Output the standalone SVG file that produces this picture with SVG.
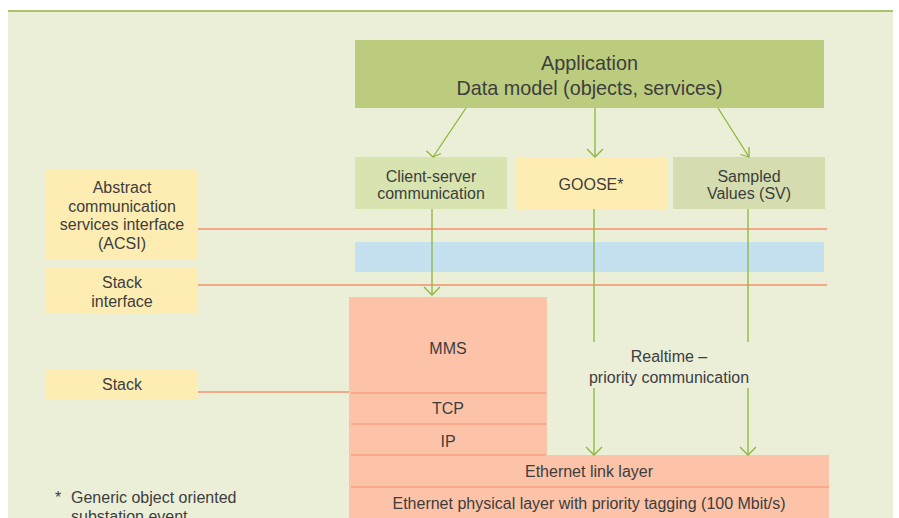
<svg xmlns="http://www.w3.org/2000/svg" width="899" height="518" viewBox="0 0 899 518">
<style>
text{font-family:"Liberation Sans",Arial,sans-serif;fill:#3d3d3d;font-size:16px;text-anchor:middle}
.app{font-size:19.8px}
.fn{text-anchor:start;font-size:16px}
.yel{fill:#fdedb3}
.sal{fill:#fdc3a8}
.org{stroke:#f4916a;stroke-width:1.5;fill:none}
.div{stroke:#f4916a;stroke-width:1.2;fill:none}
.grn{stroke:#8db53c;stroke-width:1.3;fill:none}
</style>
<rect x="0" y="0" width="899" height="518" fill="#ffffff"/>
<rect x="8" y="11" width="885" height="507" fill="#ebefd8"/>
<line x1="8" y1="11" x2="893" y2="11" stroke="#8db53c" stroke-width="1.5"/>

<g id="app">
<rect x="355" y="40" width="469" height="68" fill="#bccc7e"/>
<text x="589.5" y="70" class="app">Application</text>
<text x="589.5" y="95" class="app">Data model (objects, services)</text>
</g>
<g id="client">
<rect x="355" y="157" width="152" height="52" fill="#d7e4b0"/>
<text x="431" y="181.5">Client-server</text>
<text x="431" y="198.5">communication</text>
</g>
<g id="goose">
<rect x="515" y="157" width="152" height="52" class="yel"/>
<text x="591" y="189.5">GOOSE*</text>
</g>
<g id="sv">
<rect x="673" y="157" width="152" height="52" fill="#d5ddb0"/>
<text x="749" y="181.5">Sampled</text>
<text x="749" y="198.5">Values (SV)</text>
</g>
<g id="acsi">
<rect x="46" y="169" width="152" height="90" class="yel"/>
<text x="122" y="193">Abstract</text>
<text x="122" y="211.5">communication</text>
<text x="122" y="230">services interface</text>
<text x="122" y="248.5">(ACSI)</text>
</g>
<g id="stackif">
<rect x="46" y="268" width="152" height="46" class="yel"/>
<text x="122" y="288">Stack</text>
<text x="122" y="307">interface</text>
</g>
<g id="stack">
<rect x="46" y="369" width="152" height="30" class="yel"/>
<text x="122" y="390">Stack</text>
</g>
<g id="band">
<rect x="355" y="242" width="469" height="30" fill="#c5e0ef"/>
</g>
<g id="mms">
<rect x="349" y="297" width="198" height="158" class="sal"/>
<text x="448" y="353.5">MMS</text>
<text x="448" y="413.5">TCP</text>
<text x="448" y="447">IP</text>
</g>
<g id="ethlink">
<rect x="349" y="455" width="480" height="32" class="sal"/>
<text x="589" y="477">Ethernet link layer</text>
</g>
<g id="ethphys">
<rect x="349" y="487" width="480" height="31" class="sal"/>
<text x="589" y="509">Ethernet physical layer with priority tagging (100 Mbit/s)</text>
</g>
<g id="realtime">
<text x="669" y="361.5">Realtime –</text>
<text x="669" y="382.5">priority communication</text>
</g>
<g id="footnote">
<text x="55" y="503" class="fn">*</text>
<text x="71" y="503" class="fn">Generic object oriented</text>
<text x="71" y="522" class="fn">substation event</text>
</g>

<g id="connectors">
<line x1="198" y1="229" x2="827" y2="229" class="org"/>
<line x1="198" y1="285" x2="827" y2="285" class="org"/>
<line x1="198" y1="392" x2="349" y2="392" class="org"/>
<line x1="351" y1="393" x2="546" y2="393" class="div"/>
<line x1="351" y1="424" x2="546" y2="424" class="div"/>
<line x1="351" y1="455" x2="546" y2="455" class="div"/>
<line x1="351" y1="487" x2="829" y2="487" class="div"/>
<path d="M466,108 L433,157" class="grn"/>
<path d="M426.5,151 L433,157 L441,153.5" class="grn"/>
<path d="M595,108 L595,157" class="grn"/>
<path d="M587,149 L595,157 L603,149" class="grn"/>
<path d="M718,108 L749,157" class="grn"/>
<path d="M740.5,154.5 L749,157 L749,147" class="grn"/>
<path d="M432,209 L432,295" class="grn"/>
<path d="M424,287 L432,295 L440,287" class="grn"/>
<path d="M594,209 L594,342 M594,388 L594,455" class="grn"/>
<path d="M586,447 L594,455 L602,447" class="grn"/>
<path d="M748,209 L748,342 M748,388 L748,455" class="grn"/>
<path d="M740,447 L748,455 L756,447" class="grn"/>
</g>
</svg>
